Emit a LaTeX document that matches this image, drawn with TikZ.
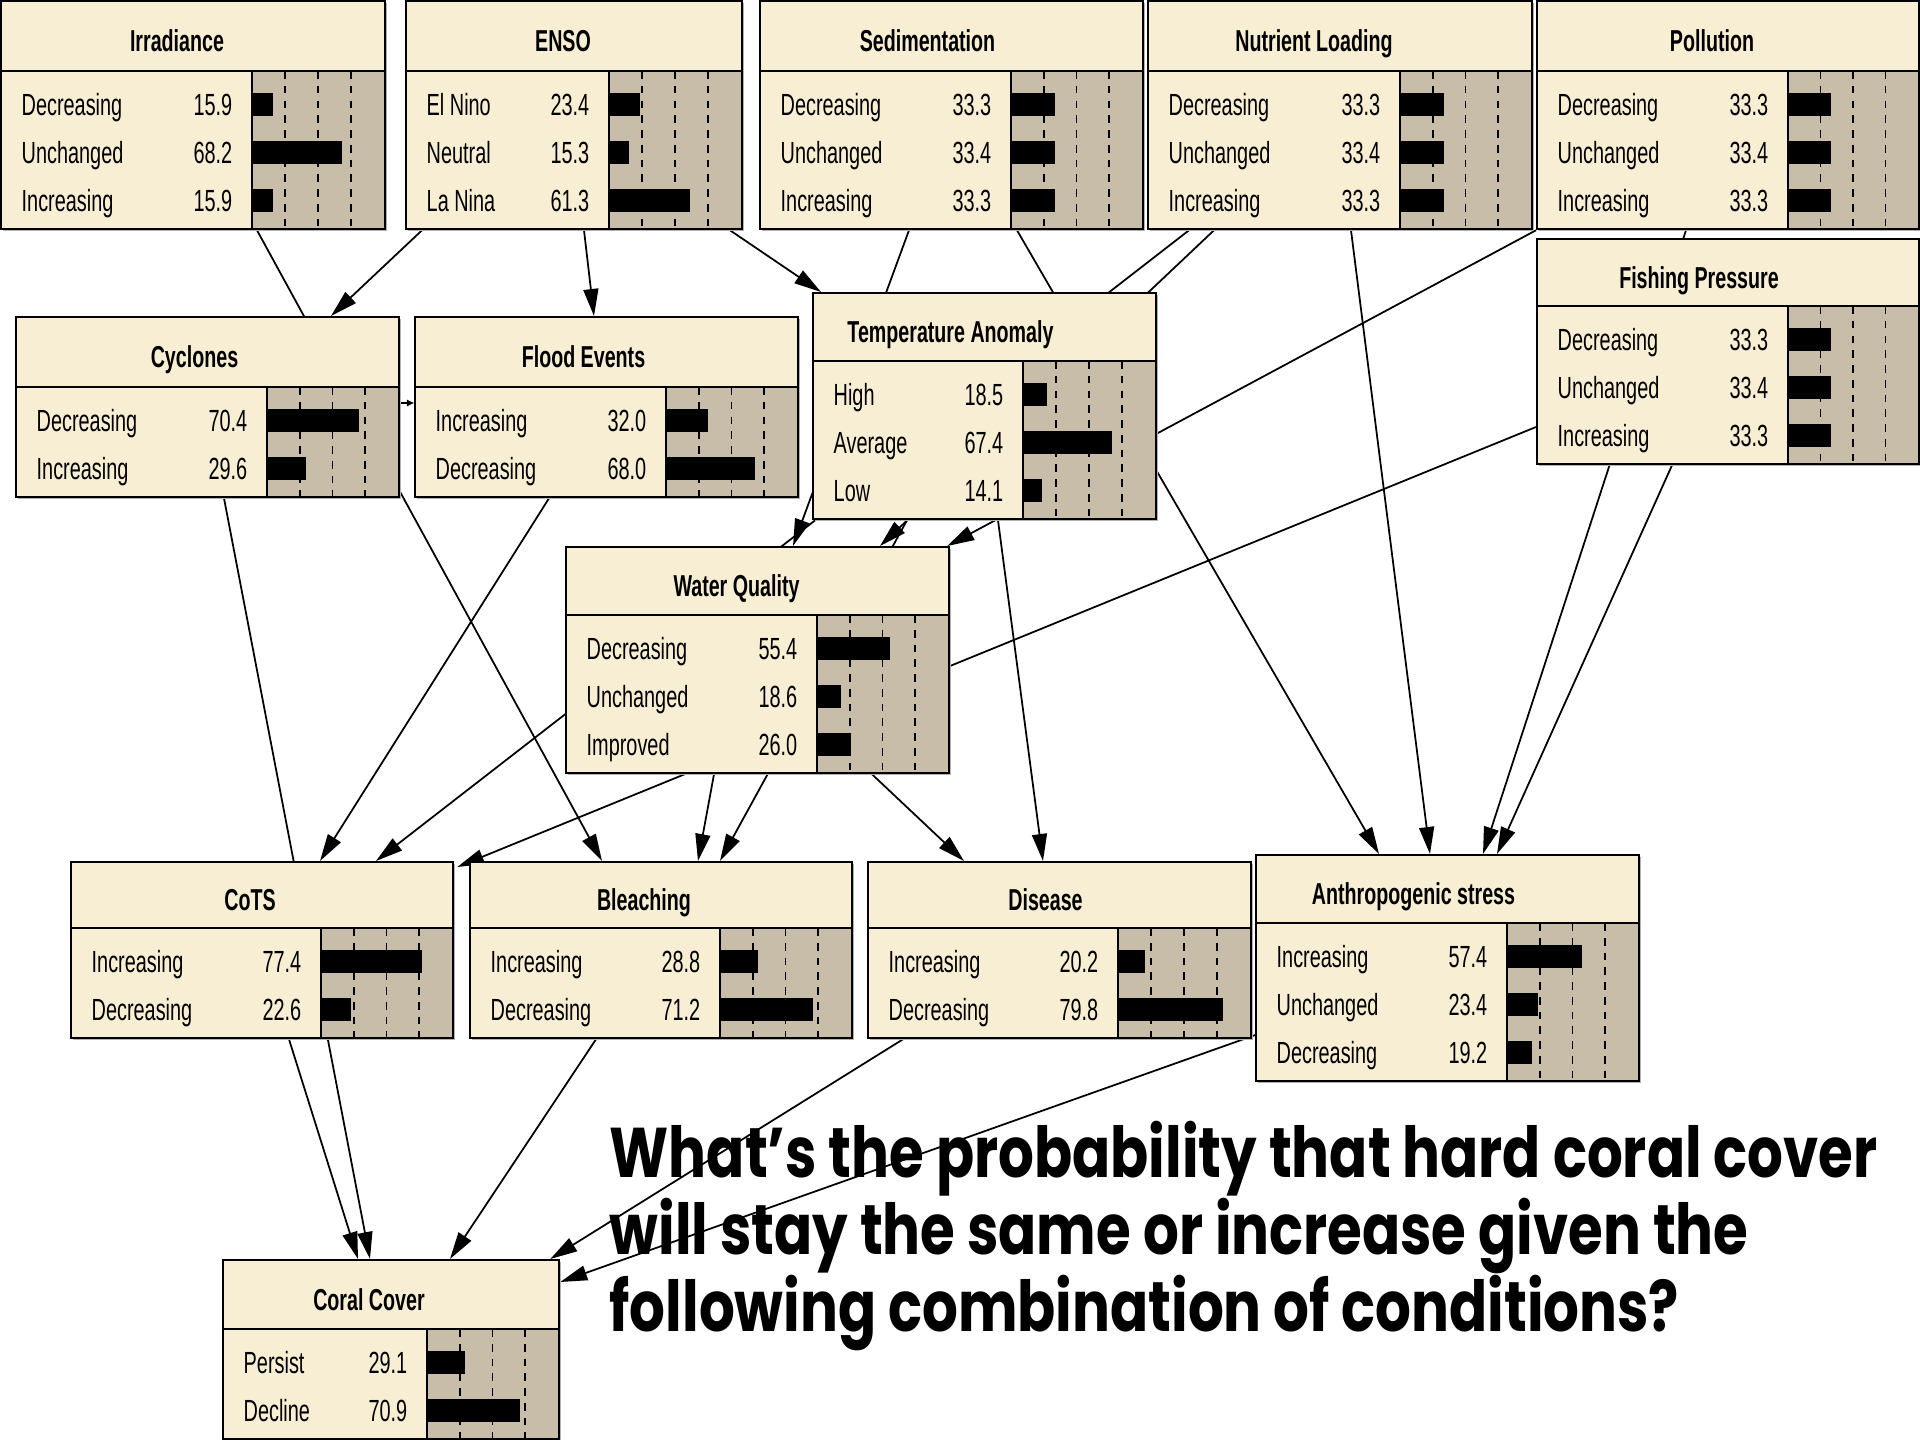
\documentclass[tikz,border=0pt]{standalone}
\usepackage{fontspec}
\usetikzlibrary{arrows.meta,calc,backgrounds}
\newfontfamily\nf{Liberation Sans}[FakeStretch=0.65]
\newfontfamily\qf{Poppins}[FakeStretch=0.80]
\definecolor{cream}{RGB}{248,238,211}
\definecolor{tan}{RGB}{199,189,169}
\tikzset{
  edge/.style={line width=0.5pt,-{Triangle[length=0.27cm,width=0.15cm]}},
  smalledge/.style={line width=0.5pt,-{Triangle[length=0.07cm,width=0.06cm]}},
  border/.style={line width=0.65pt},
  gridline/.style={line width=0.45pt,dash pattern=on 2.2pt off 2pt},
  rowlab/.style={inner sep=0pt,font=\nf\fontsize{8.7}{10}\selectfont},
  titlelab/.style={inner sep=0pt,font=\nf\bfseries\fontsize{8.6}{10}\selectfont},
  question/.style={inner sep=0pt,align=left,font=\qf\bfseries\fontsize{20}{21.9}\selectfont},
}
% #1 name, #2 x, #3 y, #4 width, #5 label width, #6 title height, #7 title shift, #8 title, #9 rows
\newcommand\bnnode[9]{%
  \begin{scope}[shift={(#2,#3)}]
    \gdef\bnrows{0}%
    \foreach \bnlab/\bnval in {#9}{\xdef\bnrows{\the\numexpr\bnrows+1\relax}}%
    \pgfmathsetmacro\bnh{#6+13+48*\bnrows}%
    \pgfmathsetmacro\bnbw{#4-#5}%
    \fill[black!30] (3,3) rectangle (#4+3,\bnh+3);
    \fill[cream] (0,0) rectangle (#4,\bnh);
    \fill[tan] (#5,#6) rectangle (#4,\bnh);
    \foreach \bnk in {1,2,3}{\draw[gridline] (#5+\bnk*0.25*\bnbw,#6) -- (#5+\bnk*0.25*\bnbw,\bnh);}
    \foreach \bnlab/\bnval [count=\bni from 0] in {#9}{%
      \pgfmathsetmacro\bnrc{#6+34+48*\bni}%
      \fill (#5,\bnrc-11.5) rectangle (#5+\bnval*\bnbw/100,\bnrc+11.5);
      \node[rowlab,anchor=base west] at (21,\bnrc+11) {\bnlab};
      \node[rowlab,anchor=base east] at (#5-19,\bnrc+11) {\bnval};
    }
    \draw[border] (0,#6) -- (#4,#6) (#5,#6) -- (#5,\bnh);
    \node[draw,border,anchor=north west,inner sep=0pt,minimum width=#4*0.01cm,minimum height=\bnh*0.01cm] (#1) at (0,0) {};
    \node[titlelab,anchor=base] at (#4/2+#7,#6/2+16.5) {#8};
  \end{scope}}

\begin{document}
\begin{tikzpicture}[x=0.01cm,y=-0.01cm]
\begin{pgfonlayer}{background}
  \fill[white] (0,0) rectangle (1920,1440);
\end{pgfonlayer}
\useasboundingbox (0,0) rectangle (1920,1440);

\bnnode{irr}{0}{0}{384}{252}{71}{-15}{Irradiance}{Decreasing/15.9,Unchanged/68.2,Increasing/15.9}
\bnnode{enso}{405}{0}{336}{204}{71}{-10}{ENSO}{El Nino/23.4,Neutral/15.3,La Nina/61.3}
\bnnode{sed}{759}{0}{383}{252}{71}{-23}{Sedimentation}{Decreasing/33.3,Unchanged/33.4,Increasing/33.3}
\bnnode{nut}{1147}{0}{384}{253}{71}{-25}{Nutrient Loading}{Decreasing/33.3,Unchanged/33.4,Increasing/33.3}
\bnnode{pol}{1536}{0}{382}{252}{71}{-15}{Pollution}{Decreasing/33.3,Unchanged/33.4,Increasing/33.3}
\bnnode{fish}{1536}{238}{382}{252}{68}{-28}{Fishing Pressure}{Decreasing/33.3,Unchanged/33.4,Increasing/33.3}
\bnnode{cyc}{15}{316}{383}{252}{71}{-12}{Cyclones}{Decreasing/70.4,Increasing/29.6}
\bnnode{flood}{414}{316}{383}{252}{71}{-22}{Flood Events}{Increasing/32.0,Decreasing/68.0}
\bnnode{ta}{812}{292}{343}{211}{69}{-33}{Temperature Anomaly}{High/18.5,Average/67.4,Low/14.1}
\bnnode{wq}{565}{546}{383}{252}{69}{-20}{Water Quality}{Decreasing/55.4,Unchanged/18.6,Improved/26.0}
\bnnode{cots}{70}{861}{382}{251}{67}{-11}{CoTS}{Increasing/77.4,Decreasing/22.6}
\bnnode{bleach}{469}{861}{382}{251}{67}{-16}{Bleaching}{Increasing/28.8,Decreasing/71.2}
\bnnode{dis}{867}{861}{383}{251}{67}{-13}{Disease}{Increasing/20.2,Decreasing/79.8}
\bnnode{anth}{1255}{854}{383}{252}{69}{-33}{Anthropogenic stress}{Increasing/57.4,Unchanged/23.4,Decreasing/19.2}
\bnnode{cc}{222}{1259}{336}{205}{70}{-21}{Coral Cover}{Persist/29.1,Decline/70.9}

\begin{pgfonlayer}{background}
  \draw[edge] ($(irr.south west)+(257,0)$) -- ($(bleach.north west)+(133,0)$);
  \draw[edge] ($(enso.south west)+(17,0)$) -- ($(cyc.north west)+(316,0)$);
  \draw[edge] ($(enso.south west)+(179,0)$) -- ($(flood.north west)+(180,0)$);
  \draw[edge] ($(enso.south west)+(325,0)$) -- ($(ta.north west)+(9,0)$);
  \draw[smalledge] ($(cyc.north east)+(0,87)$) -- ($(flood.north west)+(0,87)$);
  \draw[edge] ($(cyc.south west)+(209,0)$) -- ($(cc.north west)+(148,0)$);
  \draw[edge] ($(cots.south west)+(219,0)$) -- ($(cc.north west)+(136,0)$);
  \draw[edge] ($(flood.south west)+(135,0)$) -- ($(cots.north west)+(250,0)$);
  \draw[edge] ($(nut.south west)+(42,0)$) -- ($(cots.north west)+(306,0)$);
  \draw[edge] ($(nut.south west)+(67,0)$) -- ($(wq.north west)+(315,0)$);
  \draw[edge] ($(nut.south west)+(204,0)$) -- ($(anth.north west)+(175,0)$);
  \draw[edge] ($(sed.south west)+(150,0)$) -- ($(wq.north west)+(228,0)$);
  \draw[edge] ($(sed.south west)+(258,0)$) -- ($(anth.north west)+(124,0)$);
  \draw[edge] (pol.south west) -- ($(wq.north east)+(-3,0)$);
  \draw[edge] ($(pol.south west)+(150,0)$) -- ($(anth.north west)+(228,0)$);
  \draw[edge] ($(fish.south west)+(136,0)$) -- ($(anth.north west)+(242,0)$);
  \draw[edge] ($(fish.north west)+(0,189)$) -- ($(cots.north east)+(3,6)$);
  \draw[edge] ($(ta.south west)+(95,0)$) -- ($(bleach.north west)+(251,0)$);
  \draw[edge] ($(ta.south west)+(186,0)$) -- ($(dis.north west)+(176,0)$);
  \draw[edge] ($(wq.south west)+(149,0)$) -- ($(bleach.north west)+(229,0)$);
  \draw[edge] ($(wq.south west)+(307,0)$) -- ($(dis.north west)+(97,0)$);
  \draw[edge] ($(bleach.south west)+(127,0)$) -- ($(cc.north west)+(228,0)$);
  \draw[edge] ($(dis.south west)+(36,0)$) -- ($(cc.north east)+(-10,0)$);
  \draw[edge] ($(anth.north west)+(20,174)$) -- ($(cc.north east)+(0,23)$);
\end{pgfonlayer}

\node[question,anchor=base west] (q) at (609,1332) {What’s the probability that hard coral cover\\will stay the same or increase given the\\following combination of conditions?};
\end{tikzpicture}
\end{document}
